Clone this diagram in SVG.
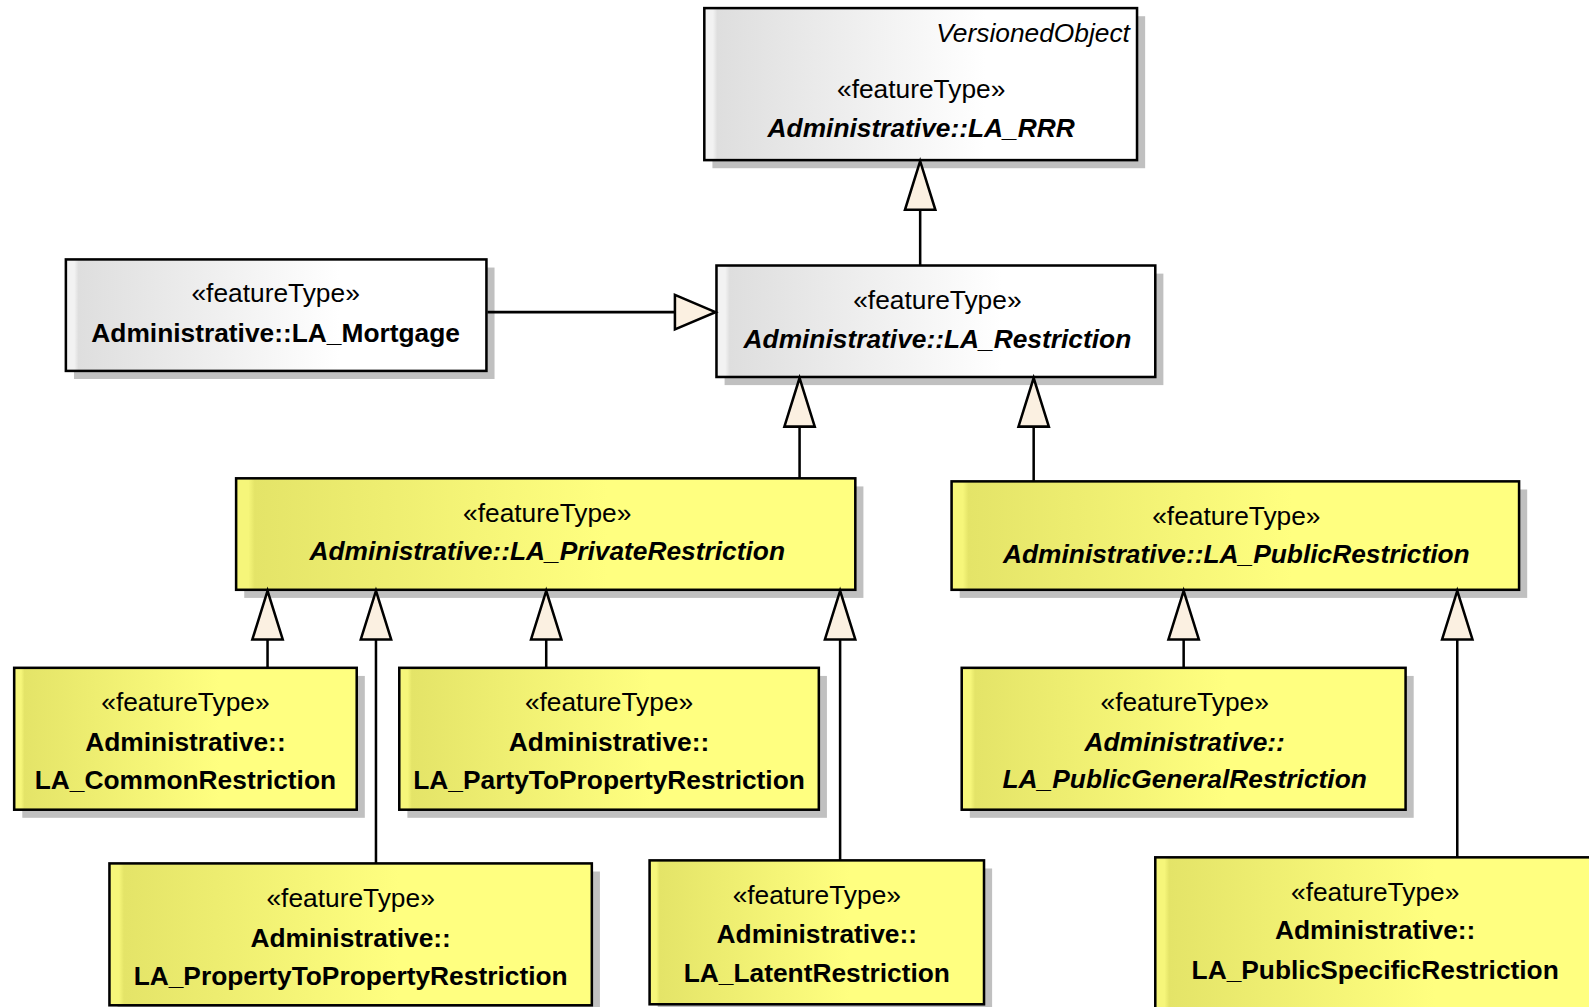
<svg xmlns="http://www.w3.org/2000/svg" width="1589" height="1007" viewBox="0 0 1589 1007">
<defs>
<linearGradient id="gGray" x1="0" y1="0" x2="1" y2="0">
<stop offset="0" stop-color="#f2f2f2"/>
<stop offset="0.02" stop-color="#f2f2f2"/>
<stop offset="0.03" stop-color="#dedede"/>
<stop offset="0.65" stop-color="#ffffff"/>
<stop offset="1" stop-color="#ffffff"/>
</linearGradient>
<linearGradient id="gYel" x1="0" y1="0" x2="1" y2="0">
<stop offset="0" stop-color="#f6f67a"/>
<stop offset="0.02" stop-color="#f6f67a"/>
<stop offset="0.03" stop-color="#e4e468"/>
<stop offset="0.6" stop-color="#ffff80"/>
<stop offset="1" stop-color="#ffff80"/>
</linearGradient>
<style>
.sh{fill:#c0c0c0}
.g{fill:url(#gGray);stroke:#000;stroke-width:2.5}
.y{fill:url(#gYel);stroke:#000;stroke-width:2.5}
text{font-family:"Liberation Sans",Arial,sans-serif;font-size:26px;fill:#000;text-anchor:middle}
.b{font-weight:bold}
.bi{font-weight:bold;font-style:italic}
.it{font-style:italic;text-anchor:end}
.ln{stroke:#000;stroke-width:2.5;fill:none}
.ah{fill:#fbf0e1;stroke:#000;stroke-width:2.5;stroke-linejoin:miter}
</style>
</defs>
<rect width="1589" height="1007" fill="#fff"/>
<g transform="scale(1.0134)">

<g id="LA_RRR">
<rect class="sh" x="703" y="16" width="427" height="150"/>
<rect class="g" x="695" y="8" width="427" height="150"/>
<text class="it" x="1115" y="41">VersionedObject</text>
<text x="909" y="97">«featureType»</text>
<text class="bi" x="909" y="135">Administrative::LA_RRR</text>
</g>

<g id="LA_Mortgage">
<rect class="sh" x="73" y="264" width="415" height="110"/>
<rect class="g" x="65" y="256" width="415" height="110"/>
<text x="272" y="298">«featureType»</text>
<text class="b" x="272" y="337">Administrative::LA_Mortgage</text>
</g>

<g id="LA_Restriction">
<rect class="sh" x="715" y="270" width="433" height="110"/>
<rect class="g" x="707" y="262" width="433" height="110"/>
<text x="925" y="305">«featureType»</text>
<text class="bi" x="925" y="343">Administrative::LA_Restriction</text>
</g>

<g id="LA_PrivateRestriction">
<rect class="sh" x="241" y="480" width="611" height="110"/>
<rect class="y" x="233" y="472" width="611" height="110"/>
<text x="540" y="515">«featureType»</text>
<text class="bi" x="540" y="553">Administrative::LA_PrivateRestriction</text>
</g>

<g id="LA_PublicRestriction">
<rect class="sh" x="947" y="483" width="560" height="107"/>
<rect class="y" x="939" y="475" width="560" height="107"/>
<text x="1220" y="518">«featureType»</text>
<text class="bi" x="1220" y="556">Administrative::LA_PublicRestriction</text>
</g>

<g id="LA_CommonRestriction">
<rect class="sh" x="22" y="667" width="338" height="140"/>
<rect class="y" x="14" y="659" width="338" height="140"/>
<text x="183" y="702">«featureType»</text>
<text class="b" x="183" y="741">Administrative::</text>
<text class="b" x="183" y="779">LA_CommonRestriction</text>
</g>

<g id="LA_PartyToPropertyRestriction">
<rect class="sh" x="402" y="667" width="414" height="140"/>
<rect class="y" x="394" y="659" width="414" height="140"/>
<text x="601" y="702">«featureType»</text>
<text class="b" x="601" y="741">Administrative::</text>
<text class="b" x="601" y="779">LA_PartyToPropertyRestriction</text>
</g>

<g id="LA_PublicGeneralRestriction">
<rect class="sh" x="957" y="667" width="438" height="140"/>
<rect class="y" x="949" y="659" width="438" height="140"/>
<text x="1169" y="702">«featureType»</text>
<text class="bi" x="1169" y="741">Administrative::</text>
<text class="bi" x="1169" y="778">LA_PublicGeneralRestriction</text>
</g>

<g id="LA_PropertyToPropertyRestriction">
<rect class="sh" x="116" y="860" width="476" height="140"/>
<rect class="y" x="108" y="852" width="476" height="140"/>
<text x="346" y="895">«featureType»</text>
<text class="b" x="346" y="934">Administrative::</text>
<text class="b" x="346" y="972">LA_PropertyToPropertyRestriction</text>
</g>

<g id="LA_LatentRestriction">
<rect class="sh" x="649" y="857" width="330" height="142"/>
<rect class="y" x="641" y="849" width="330" height="142"/>
<text x="806" y="892">«featureType»</text>
<text class="b" x="806" y="931">Administrative::</text>
<text class="b" x="806" y="969">LA_LatentRestriction</text>
</g>

<g id="LA_PublicSpecificRestriction">
<rect class="sh" x="1148" y="854" width="460" height="157"/>
<rect class="y" x="1140" y="846" width="460" height="157"/>
<text x="1357" y="889">«featureType»</text>
<text class="b" x="1357" y="927">Administrative::</text>
<text class="b" x="1357" y="966">LA_PublicSpecificRestriction</text>
</g>

<g id="connectors">
<line class="ln" x1="908" y1="262" x2="908" y2="207"/>
<polygon class="ah" points="908,159 893,207 923,207"/>
<line class="ln" x1="481" y1="308" x2="666" y2="308"/>
<polygon class="ah" points="706,308 666,291 666,325"/>
<line class="ln" x1="789" y1="472" x2="789" y2="421"/>
<polygon class="ah" points="789,373 774,421 804,421"/>
<line class="ln" x1="1020" y1="475" x2="1020" y2="421"/>
<polygon class="ah" points="1020,373 1005,421 1035,421"/>
<line class="ln" x1="264" y1="659" x2="264" y2="631"/>
<polygon class="ah" points="264,583 249,631 279,631"/>
<line class="ln" x1="371" y1="852" x2="371" y2="631"/>
<polygon class="ah" points="371,583 356,631 386,631"/>
<line class="ln" x1="539" y1="659" x2="539" y2="631"/>
<polygon class="ah" points="539,583 524,631 554,631"/>
<line class="ln" x1="829" y1="849" x2="829" y2="631"/>
<polygon class="ah" points="829,583 814,631 844,631"/>
<line class="ln" x1="1168" y1="659" x2="1168" y2="631"/>
<polygon class="ah" points="1168,583 1153,631 1183,631"/>
<line class="ln" x1="1438" y1="846" x2="1438" y2="631"/>
<polygon class="ah" points="1438,583 1423,631 1453,631"/>
</g>
</g>
</svg>
